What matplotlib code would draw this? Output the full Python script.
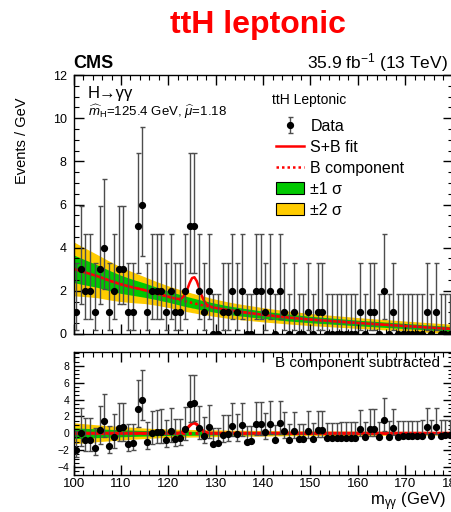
import numpy as np
import matplotlib.pyplot as plt
from matplotlib.lines import Line2D
from matplotlib.patches import Patch
from matplotlib.ticker import MultipleLocator

plt.rcParams['font.family'] = ['Liberation Sans', 'DejaVu Sans']
plt.rcParams['mathtext.fontset'] = 'custom'
plt.rcParams['mathtext.rm'] = 'Liberation Sans'
plt.rcParams['mathtext.it'] = 'Liberation Sans:italic'
plt.rcParams['mathtext.bf'] = 'Liberation Sans:bold'

# events per 1 GeV bin, 100-180 GeV
counts = [1, 3, 2, 2, 1, 3, 4, 1, 2, 3, 3, 1, 1, 5, 6, 1, 2, 2, 2, 1,
          2, 1, 1, 2, 5, 5, 2, 1, 2, 0, 0, 1, 1, 2, 1, 2, 0, 0, 2, 2,
          1, 2, 0, 2, 1, 0, 1, 0, 0, 1, 0, 1, 1, 0, 0, 0, 0, 0, 0, 0,
          1, 0, 1, 1, 0, 2, 0, 1, 0, 0, 0, 0, 0, 0, 1, 0, 1, 0, 0, 0]

# data minus B component
resid = [-1.99, 0.08, -0.85, -0.78, -1.71, 0.36, 1.44, -1.48, -0.41, 0.66,
         0.73, -1.22, -1.16, 2.89, 3.95, -1.00, 0.06, 0.12, 0.18, -0.76,
         0.30, -0.64, -0.58, 0.48, 3.53, 3.58, 0.63, -0.32, 0.72, -1.23,
         -1.19, -0.15, -0.11, 0.92, -0.05, 0.98, -0.99, -0.96, 1.07, 1.10,
         0.12, 1.15, -0.83, 1.19, 0.22, -0.76, 0.26, -0.72, -0.71, 0.31,
         -0.66, 0.35, 0.37, -0.62, -0.60, -0.58, -0.56, -0.55, -0.53, -0.52,
         0.50, -0.49, 0.53, 0.54, -0.45, 1.57, -0.42, 0.60, -0.39, -0.38,
         -0.36, -0.35, -0.34, -0.32, 0.69, -0.29, 0.72, -0.27, -0.25, -0.24]

# poisson interval (down, up) for n = 0..6
err_lo = [0.0, 0.83, 1.29, 1.63, 1.92, 2.16, 2.38]
err_hi = [1.84, 2.30, 2.64, 2.92, 3.16, 3.38, 3.58]

# fit curves
mass = [100, 102.5, 105, 107.5, 110, 112.5, 115, 117.5, 120,
        121, 121.5, 122, 122.5, 123, 123.5, 124, 124.5, 125, 125.5,
        126, 126.5, 127, 127.5, 128, 128.5, 129, 130,
        132.5, 135, 137.5, 140, 145, 150, 155, 160, 165, 170, 175, 180]
bkg = [3.02, 2.85, 2.68, 2.48, 2.30, 2.16, 2.03, 1.88, 1.73,
       1.67, 1.64, 1.61, 1.58, 1.55, 1.52, 1.49, 1.47, 1.44, 1.42,
       1.39, 1.37, 1.34, 1.32, 1.30, 1.28, 1.25, 1.21,
       1.11, 1.03, 0.96, 0.89, 0.77, 0.67, 0.59, 0.51, 0.44, 0.37, 0.30, 0.23]
sig = [0, 0, 0, 0, 0, 0, 0, 0, 0,
       0.0, 0.005, 0.015, 0.05, 0.14, 0.31, 0.58, 0.90, 1.15, 1.21,
       1.06, 0.77, 0.46, 0.23, 0.095, 0.03, 0.01, 0,
       0, 0, 0, 0, 0, 0, 0, 0, 0, 0, 0, 0]
band1 = [0.64, 0.58, 0.52, 0.47, 0.42, 0.37, 0.33, 0.29, 0.26,
         0.255, 0.25, 0.25, 0.245, 0.245, 0.24, 0.24, 0.235, 0.235, 0.23,
         0.23, 0.225, 0.225, 0.22, 0.22, 0.215, 0.215, 0.21,
         0.20, 0.19, 0.18, 0.17, 0.16, 0.15, 0.14, 0.13, 0.125, 0.12, 0.115, 0.11]
band2 = [1.25, 1.12, 1.00, 0.90, 0.80, 0.71, 0.62, 0.55, 0.50,
         0.49, 0.485, 0.48, 0.475, 0.47, 0.465, 0.46, 0.455, 0.45, 0.445,
         0.44, 0.435, 0.43, 0.425, 0.42, 0.415, 0.41, 0.40,
         0.38, 0.36, 0.345, 0.33, 0.30, 0.28, 0.265, 0.25, 0.24, 0.23, 0.225, 0.22]

green, yellow = '#00C800', '#FFCC00'
W, H = 452, 512

edges = np.arange(100, 181)
centres = 0.5 * (edges[:-1] + edges[1:])
n = np.array(counts)
yerr = [np.take(err_lo, n), np.take(err_hi, n)]
m = np.array(mass)
b = np.array(bkg)
s = np.array(sig)
s1 = np.array(band1)
s2 = np.array(band2)

fig = plt.figure(figsize=(W / 100, H / 100), dpi=100)
ax1 = fig.add_axes([73.6 / W, 1 - 334 / H, 379 / W, 259 / H])
ax2 = fig.add_axes([73.6 / W, 1 - 475 / H, 379 / W, 123.5 / H])

for ax in (ax1, ax2):
    ax.set_xlim(100, 180)
    ax.xaxis.set_major_locator(MultipleLocator(10))
    ax.xaxis.set_minor_locator(MultipleLocator(2))
    ax.yaxis.set_major_locator(MultipleLocator(2))
    ax.yaxis.set_minor_locator(MultipleLocator(0.5))
    ax.tick_params(which='both', direction='in', top=True, right=True)
    ax.tick_params(which='major', length=7, width=1)
    ax.tick_params(which='minor', length=3.5, width=0.8)
    for sp in ax.spines.values():
        sp.set_linewidth(1)

# upper panel
ax1.set_ylim(0, 12)
ax1.tick_params(labelbottom=False, labelsize=9, pad=5)
ax1.fill_between(m, b - s2, b + s2, color=yellow, lw=0)
ax1.fill_between(m, b - s1, b + s1, color=green, lw=0)
ax1.plot(m, b, color='red', lw=1.8, ls=(0, (1, 1.2)))
ax1.plot(m, b + s, color='red', lw=1.8)
eb = ax1.errorbar(centres, n, yerr=yerr, fmt='o', color='black', ecolor='0.3',
                  elinewidth=1, capsize=1.8, capthick=1, markersize=4.2)

fig.text(88 / W, 1 - 98 / H, 'H→γγ', fontsize=12, va='baseline')
fig.text(88 / W, 1 - 116 / H, r'$\widehat{m}_{\mathrm{H}}$=125.4 GeV, $\widehat{\mu}$=1.18',
         fontsize=9.5, va='baseline')

fig.text(272 / W, 1 - 100 / H, 'ttH Leptonic', fontsize=10, va='center')
handles = [eb,
           Line2D([], [], color='red', lw=1.8),
           Line2D([], [], color='red', lw=1.8, ls=(0, (1, 1.2))),
           Patch(facecolor=green, edgecolor='black', lw=0.8),
           Patch(facecolor=yellow, edgecolor='black', lw=0.8)]
labels = ['Data', 'S+B fit', 'B component', '±1 σ', '±2 σ']
ax1.legend(handles, labels, loc='upper left', bbox_to_anchor=(276 / W, 1 - 119 / H),
           bbox_transform=fig.transFigure, frameon=False, fontsize=11.5,
           handlelength=1.75, handleheight=0.8, handletextpad=0.4,
           labelspacing=0.37, borderpad=0, borderaxespad=0)

# lower panel
ax2.set_ylim(-4.95, 9.7)
ax2.tick_params(labelsize=7.5, pad=3)
ax2.tick_params(axis='x', labelsize=9.5, pad=2)
ax2.fill_between(m, -s2, s2, color=yellow, lw=0)
ax2.fill_between(m, -s1, s1, color=green, lw=0)
ax2.plot(m, 0 * b, color='red', lw=2.2, ls=(0, (1, 1.2)))
ax2.plot(m, s, color='red', lw=2.2)
ax2.errorbar(centres, resid, yerr=yerr, fmt='o', color='black', ecolor='0.3',
             elinewidth=1, capsize=1.8, capthick=1, markersize=4.2)

fig.text(440 / W, 1 - 367 / H, 'B component subtracted', fontsize=11,
         ha='right', va='baseline')

# labels and header
fig.text(258 / W, 1 - 25 / H, 'ttH leptonic', color='red', weight='bold',
         fontsize=23, ha='center', va='center')
fig.text(73 / W, 1 - 68 / H, 'CMS', weight='bold', fontsize=13, va='baseline')
fig.text(448 / W, 1 - 68 / H, '35.9 fb$^{-1}$ (13 TeV)', fontsize=12.5,
         ha='right', va='baseline')
fig.text(22 / W, 1 - 98 / H, 'Events / GeV', rotation=90, fontsize=10.5,
         ha='center', va='top')
fig.text(446 / W, 1 - 505 / H, r'm$_{\mathrm{γγ}}$ (GeV)', fontsize=12,
         ha='right', va='baseline')

fig.savefig('out.png', dpi=100)
